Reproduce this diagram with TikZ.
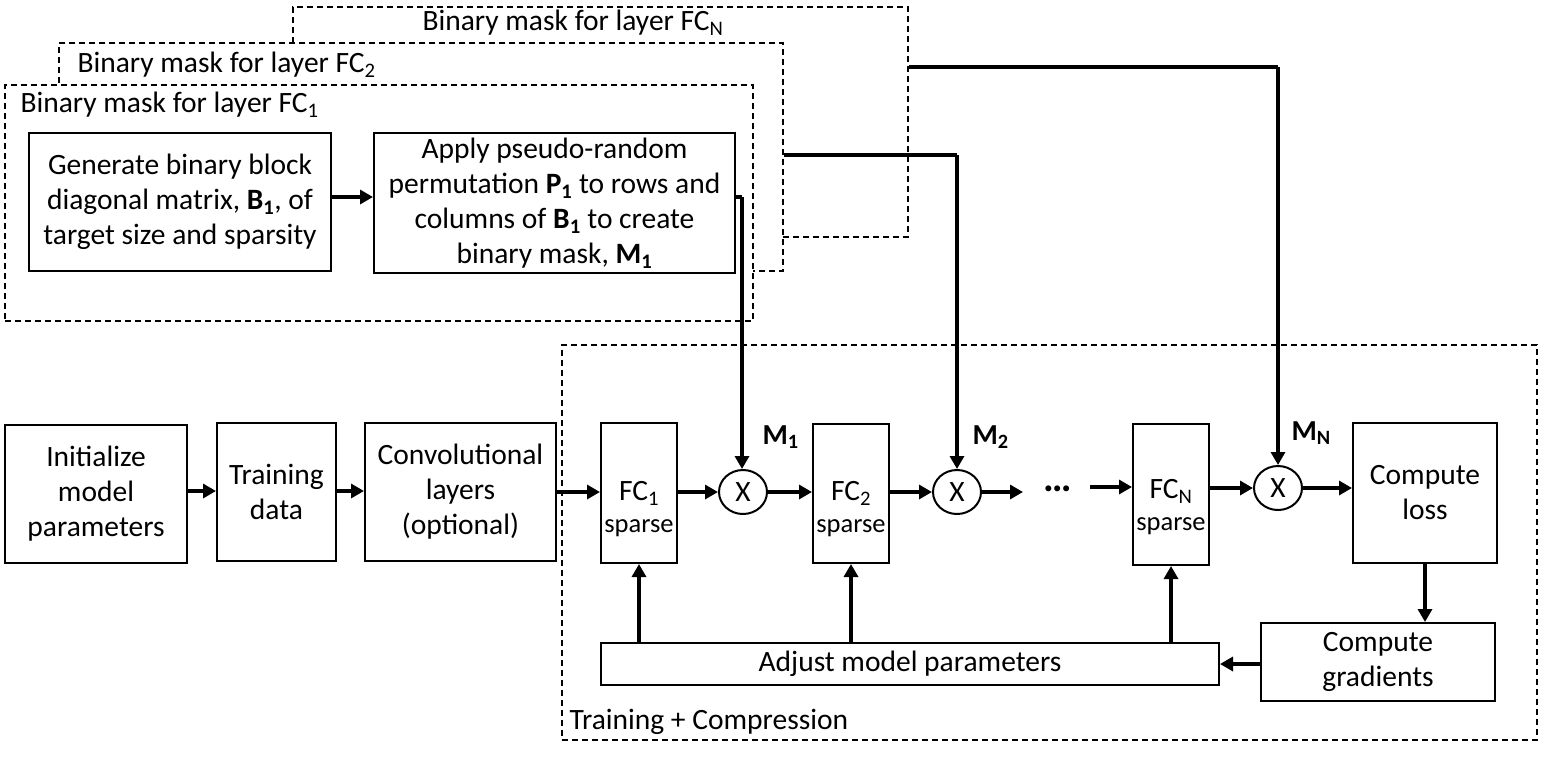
\documentclass[tikz,border=0pt]{standalone}
\usepackage{fontspec}
\setmainfont{Carlito}
\usetikzlibrary{arrows.meta,shapes.geometric}
\begin{document}
\begin{tikzpicture}[x=1pt,y=-1pt,
 font=\fontsize{29.5}{35}\selectfont,
 box/.style={draw,line width=2pt,align=center,inner sep=0pt,fill=white},
 mask/.style={draw,dash pattern=on 6pt off 4pt,line width=1.6pt,fill=white,inner sep=0pt},
 arr/.style={line width=3.5pt,-{Triangle[length=13pt,width=14pt]}},
 mult/.style={draw,ellipse,line width=2pt,minimum width=48pt,minimum height=44pt,inner sep=0pt,fill=white},
 mlabel/.style={anchor=west,font=\fontsize{29}{30}\selectfont\bfseries},
 fctext/.style={align=center,font=\fontsize{29.5}{32}\selectfont}
]
\useasboundingbox (0,0) rectangle (1550,756);

% Training + Compression region
\node[draw,dash pattern=on 6pt off 4pt,line width=1.6pt,inner sep=0pt,minimum width=975pt,minimum height=395pt] (tc) at (1049.5,542.5) {};
\node[anchor=west] (tcl) at (566,722) {Training + Compression};

% mask regions
\node[mask,minimum width=615pt,minimum height=230pt] (maskN) at (600.5,122) {};
\node (lN) at (573,23) {Binary mask for layer FC\textsubscript{N}};
\node[mask,minimum width=724pt,minimum height=228pt] (mask2) at (421,157) {};
\node[anchor=west] (l2) at (74,65) {Binary mask for layer FC\textsubscript{2}};
\node[mask,minimum width=748pt,minimum height=236pt] (mask1) at (379,203) {};
\node[anchor=west] (l1) at (17,105) {Binary mask for layer FC\textsubscript{1}};

\node[box,minimum width=302pt,minimum height=138pt] (gen) at (180,202)
 {Generate binary block\\diagonal matrix, \textbf{B\textsubscript{1}}, of\\target size and sparsity};
\node[box,minimum width=361pt,minimum height=140pt] (apply) at (554.5,203)
 {Apply pseudo-random\\permutation \textbf{P\textsubscript{1}} to rows and\\columns of \textbf{B\textsubscript{1}} to create\\binary mask, \textbf{M\textsubscript{1}}};

% bottom row
\node[box,minimum width=182pt,minimum height=138pt] (init) at (96,494) {Initialize\\model\\parameters};
\node[box,minimum width=119pt,minimum height=138pt] (train) at (276.5,492) {Training\\data};
\node[box,minimum width=191pt,minimum height=138pt] (conv) at (460.5,492) {Convolutional\\layers\\(optional)};

\node[box,minimum width=76pt,minimum height=140pt] (fc1) at (639,493) {};
\node[fctext] (fc1t) at (639,509) {FC\textsubscript{1}\\{\fontsize{26.5}{30}\selectfont sparse}};
\node[box,minimum width=76pt,minimum height=139pt] (fc2) at (851,493.5) {};
\node[fctext] (fc2t) at (851,509) {FC\textsubscript{2}\\{\fontsize{26.5}{30}\selectfont sparse}};
\node[box,minimum width=76pt,minimum height=141pt] (fcN) at (1171,494.5) {};
\node[fctext] (fcNt) at (1171,507) {FC\textsubscript{N}\\{\fontsize{26.5}{30}\selectfont sparse}};

\node[mult] (c1) at (743,492) {X};
\node[mult] (c2) at (957,492) {X};
\node[mult] (cN) at (1278,488) {X};

\node[mlabel] (m1) at (759,437) {M\textsubscript{1}};
\node[mlabel] (m2) at (969,437) {M\textsubscript{2}};
\node[mlabel] (mN) at (1288,433) {M\textsubscript{N}};

\node[box,minimum width=144pt,minimum height=140pt] (loss) at (1425,493) {Compute\\loss};
\node[box,minimum width=234pt,minimum height=78pt] (grad) at (1378,662) {Compute\\gradients};
\node[box,minimum width=618pt,minimum height=42pt] (adjust) at (910,664) {Adjust model parameters};

\node[anchor=base,font=\fontsize{40}{40}\selectfont\bfseries] (dots) at (1058,491) {…};

% coordinates
\coordinate (y197) at (0,197);
\coordinate (k1) at (742,197);
\coordinate (k2) at (957,155);
\coordinate (kN) at (1278,67);
\coordinate (d1) at (1023,492);
\coordinate (d2) at (1090,487);
\coordinate (ya) at (0,491);

% connectors
\draw[arr] (gen.east |- y197) -- (apply.west |- y197);
\draw[line width=3.5pt] (apply.east |- k1) -- (k1);
\draw[arr] (k1) -- (k1 |- c1.north);
\draw[line width=3.5pt] (mask2.east |- k2) -- (k2);
\draw[arr] (k2) -- (c2.north);
\draw[line width=3.5pt] (maskN.east |- kN) -- (kN);
\draw[arr] (kN) -- (cN.north);

\draw[arr] (init.east |- ya) -- (train.west |- ya);
\draw[arr] (train.east |- ya) -- (conv.west |- ya);
\draw[arr] (conv.east |- c1) -- (fc1.west |- c1);
\draw[arr] (fc1.east |- c1) -- (c1.west);
\draw[arr] (c1.east) -- (fc2.west |- c1);
\draw[arr] (fc2.east |- c2) -- (c2.west);
\draw[arr] (c2.east) -- (d1);
\draw[arr] (d2) -- (fcN.west |- d2);
\draw[arr] (fcN.east |- cN) -- (cN.west);
\draw[arr] (cN.east) -- (loss.west |- cN);
\draw[arr] (loss.south) -- (loss.south |- grad.north);
\draw[arr] (grad.west |- adjust.east) -- (adjust.east);
\draw[arr] (adjust.north -| fc1.south) -- (fc1.south);
\draw[arr] (adjust.north -| fc2.south) -- (fc2.south);
\draw[arr] (adjust.north -| fcN.south) -- (fcN.south);
\end{tikzpicture}
\end{document}
